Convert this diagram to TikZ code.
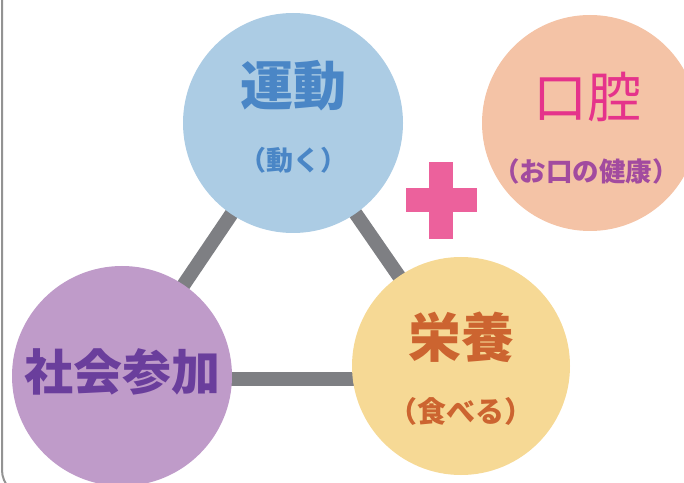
\documentclass[tikz,border=0pt]{standalone}
\usepackage{fontspec}
\newfontfamily\jpfont{Noto Sans CJK JP}
\usepackage{tikz}
\usetikzlibrary{positioning}
\pgfdeclarelayer{edgelayer}
\pgfdeclarelayer{nodelayer}
\pgfsetlayers{edgelayer,nodelayer,main}
\definecolor{blueFill}{HTML}{ACCCE4}
\definecolor{peachFill}{HTML}{F4C3A6}
\definecolor{purpleFill}{HTML}{BF9BC9}
\definecolor{yellowFill}{HTML}{F6D995}
\definecolor{linkGray}{HTML}{7E7F83}
\definecolor{plusPink}{HTML}{EC619C}
\definecolor{blueText}{HTML}{4A86C6}
\definecolor{pinkText}{HTML}{E5338B}
\definecolor{violetText}{HTML}{A24B9F}
\definecolor{purpleText}{HTML}{6A3E9C}
\definecolor{orangeText}{HTML}{CC6430}
\tikzstyle{bubble}=[
                    circle,
                    inner sep=0pt
                   ]
\tikzstyle{link}  = [line width=14pt,
                     draw=linkGray]
\tikzstyle{big}   = [inner sep=0pt,
                     font=\jpfont\bfseries\fontsize{53}{53}\selectfont]
\tikzstyle{small} = [inner sep=0pt,
                     font=\jpfont\bfseries\fontsize{27}{27}\selectfont]

\begin{document}
\begin{tikzpicture}[x=1pt,y=1pt]

  \useasboundingbox (0,0) rectangle (684,482);

  % Frame
  \begin{scope}
    \clip (0,0) rectangle (684,482);
    \draw[line width=2pt, draw=gray!85] (2,520) -- (2,12)
      arc[start angle=180, end angle=270, radius=26] -- (800,-14);
  \end{scope}

  % Nodes
  \begin{pgfonlayer}{nodelayer}
    \node[bubble, fill=blueFill, minimum size=220pt] (undo) at (293,359) {};
    \node[bubble, fill=peachFill, minimum size=216pt] (kouku) at (590,359) {};
    \node[bubble, fill=purpleFill, minimum size=220pt] (shakai) at (122,106) {};
    \node[bubble, fill=yellowFill, minimum size=218pt] (eiyou) at (461,116) {};
  \end{pgfonlayer}

  % Labels
  \node[big, text=blueText] (undoMain) at ([yshift=37pt]undo) {運動};
  \node[small, text=blueText] (undoSub) at ([yshift=-37pt]undo) {（動く）};
  \node[big, text=pinkText, font=\jpfont\fontsize{54}{54}\selectfont]
    (koukuMain) at ([xshift=-3pt,yshift=26pt]kouku) {口腔};
  \node[small, text=violetText, font=\jpfont\bfseries\fontsize{26.5}{27}\selectfont]
    (koukuSub) at ([xshift=-4pt,yshift=-48pt]kouku) {（お口の健康）};
  \node[big, text=purpleText, font=\jpfont\bfseries\fontsize{49}{49}\selectfont]
    (shakaiMain) at ([yshift=4pt]shakai) {社会参加};
  \node[big, text=orangeText] (eiyouMain) at ([yshift=29pt]eiyou) {栄養};
  \node[small, text=orangeText, font=\jpfont\bfseries\fontsize{29}{29}\selectfont]
    (eiyouSub) at ([yshift=-45pt]eiyou) {（食べる）};

  % Plus
  \fill[plusPink] (406,270) rectangle (477,294);
  \fill[plusPink] (429,243) rectangle (453,320);

  % Edges
  \begin{pgfonlayer}{edgelayer}
    \draw[link] (undo.center) -- (shakai.center);
    \draw[link] (undo.center) -- (eiyou.center);
    \draw[link] ([yshift=-3pt]shakai.center) -- ([yshift=-3pt]shakai.center -| eiyou.center);
  \end{pgfonlayer}

\end{tikzpicture}
\end{document}
